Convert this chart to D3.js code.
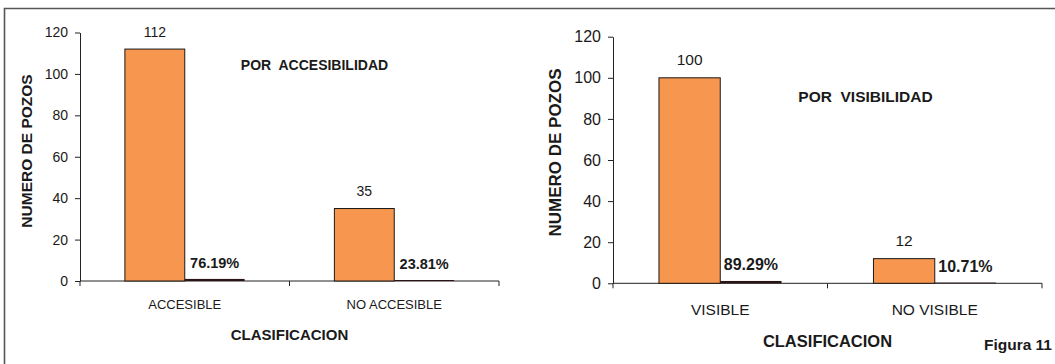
<!DOCTYPE html>
<html>
<head>
<meta charset="utf-8">
<script src="https://cdn.jsdelivr.net/npm/d3@7"></script>
<style>
  html, body { margin: 0; padding: 0; background: #fff; }
  svg { display: block; font-family: "Liberation Sans", Arial, sans-serif; }
</style>
</head>
<body>
<svg id="fig" width="1055" height="364"></svg>
<script>
// Wells classified by accessibility
const accCategories = ["ACCESIBLE", "NO ACCESIBLE"];
const accCounts = [112, 35];
const accShares = [0.7619, 0.2381];

// Wells classified by visibility
const visCategories = ["VISIBLE", "NO VISIBLE"];
const visCounts = [100, 12];
const visShares = [0.8929, 0.1071];

const yTicks = [0, 20, 40, 60, 80, 100, 120];
const yAxisTitle = "NUMERO DE POZOS";
const xAxisTitle = "CLASIFICACION";
const figureCaption = "Figura 11";

const svg = d3.select("#fig");

// frame around the figure
svg.append("path")
  .attr("d", "M4.5,364 V8.5 H1055")
  .attr("fill", "none")
  .attr("stroke", "#555")
  .attr("stroke-width", 1.6);

function drawPanel(opt) {
  const g = svg.append("g");
  const fs = opt.fs;

  const y = d3.scaleLinear().domain([0, 120]).range([opt.y0, opt.yTop]);
  const x = d3.scaleBand().domain(opt.categories).range([opt.x0, opt.x1]);
  // two bars per category, gap width 150% of a bar
  const barW = x.bandwidth() / 3.5;
  const inner = d3.scaleBand().domain(["count", "share"])
    .range([0, 2 * barW]);

  // y axis
  const yAxis = d3.axisLeft(y).tickValues(yTicks).tickSize(5).tickPadding(opt.tickPad)
    .tickSizeOuter(0);
  const ya = g.append("g").attr("transform", `translate(${opt.x0},0)`).call(yAxis);
  ya.select(".domain").attr("stroke", "#222");
  ya.selectAll(".tick line").attr("stroke", "#222");
  ya.selectAll(".tick text")
    .attr("font-size", fs.tick).attr("fill", "#1a1a1a")
    .attr("font-family", "Liberation Sans, Arial, sans-serif");

  // x axis with ticks at the category boundaries
  const bounds = opt.categories.map(c => x(c)).concat([opt.x1]);
  g.append("line")
    .attr("x1", opt.x0).attr("x2", opt.x1)
    .attr("y1", y(0)).attr("y2", y(0))
    .attr("stroke", "#222");
  g.selectAll(".xtick").data(bounds).join("line")
    .attr("x1", d => d).attr("x2", d => d)
    .attr("y1", y(0)).attr("y2", y(0) + 5)
    .attr("stroke", "#222");

  const off = (x.bandwidth() - 2 * barW) / 2;

  // count bars
  g.selectAll(".count").data(opt.counts).join("rect")
    .attr("x", (d, i) => x(opt.categories[i]) + off + inner("count"))
    .attr("y", d => y(d))
    .attr("width", inner.bandwidth())
    .attr("height", d => y(0) - y(d))
    .attr("fill", "#f6964f")
    .attr("stroke", "#1a1a1a")
    .attr("stroke-width", 1);

  // share bars (fractions on the same axis)
  g.selectAll(".share").data(opt.shares).join("rect")
    .attr("x", (d, i) => x(opt.categories[i]) + off + inner("share"))
    .attr("y", d => y(d) - 0.5)
    .attr("width", inner.bandwidth())
    .attr("height", d => y(0) - y(d) + 0.5)
    .attr("fill", "#2a1416");

  // count labels
  g.selectAll(".clab").data(opt.counts).join("text")
    .attr("x", (d, i) => x(opt.categories[i]) + off + inner("count") + inner.bandwidth() / 2)
    .attr("y", d => y(d) - 12.5)
    .attr("text-anchor", "middle")
    .attr("font-size", fs.value)
    .attr("fill", "#1a1a1a")
    .text(d => d);

  // share labels
  g.selectAll(".slab").data(opt.shares).join("text")
    .attr("x", (d, i) => x(opt.categories[i]) + off + inner("share") + inner.bandwidth() / 2)
    .attr("y", d => y(d) - 11.5)
    .attr("text-anchor", "middle")
    .attr("font-size", fs.share)
    .attr("font-weight", "bold")
    .attr("fill", "#1a1a1a")
    .text(d => (d * 100).toFixed(2) + "%");

  // category labels
  g.selectAll(".cat").data(opt.categories).join("text")
    .attr("x", d => x(d) + x.bandwidth() / 2)
    .attr("y", y(0) + opt.catDy)
    .attr("text-anchor", "middle")
    .attr("font-size", fs.cat)
    .attr("fill", "#1a1a1a")
    .text(d => d);

  // axis titles
  g.append("text")
    .attr("x", (opt.x0 + opt.x1) / 2)
    .attr("y", opt.xTitleY)
    .attr("text-anchor", "middle")
    .attr("font-size", fs.title)
    .attr("font-weight", "bold")
    .attr("fill", "#1a1a1a")
    .text(xAxisTitle);

  g.append("text")
    .attr("transform", `translate(${opt.yTitleX},${opt.yTitleCy}) rotate(-90)`)
    .attr("text-anchor", "middle")
    .attr("font-size", fs.ytitle)
    .attr("font-weight", "bold")
    .attr("fill", "#1a1a1a")
    .text(yAxisTitle);

  // panel heading
  g.append("text")
    .attr("x", opt.headX)
    .attr("y", opt.headY)
    .attr("text-anchor", "middle")
    .attr("font-size", fs.head)
    .attr("font-weight", "bold")
    .attr("fill", "#1a1a1a")
    .attr("xml:space", "preserve")
    .style("white-space", "pre")
    .text(opt.heading);
}

drawPanel({
  categories: accCategories, counts: accCounts, shares: accShares,
  heading: "POR  ACCESIBILIDAD",
  x0: 80, x1: 499, y0: 281, yTop: 32.5,
  tickPad: 7, catDy: 28, xTitleY: 340,
  yTitleX: 32, yTitleCy: 151,
  headX: 314.5, headY: 70,
  fs: { tick: 14, value: 14, share: 14.5, cat: 13, title: 15, ytitle: 15.5, head: 14 }
});

drawPanel({
  categories: visCategories, counts: visCounts, shares: visShares,
  heading: "POR  VISIBILIDAD",
  x0: 613, x1: 1042, y0: 283.3, yTop: 36.7,
  tickPad: 7, catDy: 31.5, xTitleY: 347,
  yTitleX: 561, yTitleCy: 152.5,
  headX: 865.5, headY: 102,
  fs: { tick: 16, value: 15.5, share: 16, cat: 15.5, title: 16.5, ytitle: 17, head: 15.5 }
});

svg.append("text")
  .attr("x", 1052).attr("y", 350)
  .attr("text-anchor", "end")
  .attr("font-size", 15.5)
  .attr("font-weight", "bold")
  .attr("fill", "#1a1a1a")
  .text(figureCaption);
</script>
</body>
</html>
